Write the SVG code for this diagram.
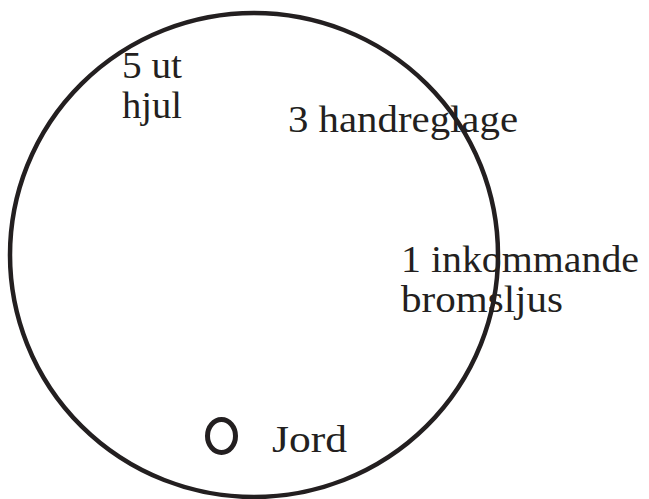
<svg xmlns="http://www.w3.org/2000/svg" width="649" height="499" viewBox="0 0 649 499">
<style>
.ln{fill:none;stroke:#231f20;stroke-width:4.5}
.t{font-family:"Liberation Serif","DejaVu Serif",serif;font-size:37px;fill:#231f20}
</style>
<rect width="649" height="499" fill="#ffffff"/>
<g id="boundary">
<ellipse class="ln" cx="254" cy="255" rx="244" ry="242"/>
</g>
<g id="connectors"></g>
<g id="pin5">
<text class="t" x="122" y="78" textLength="60" lengthAdjust="spacingAndGlyphs">5 ut</text>
<text class="t" x="122" y="118" textLength="60" lengthAdjust="spacingAndGlyphs">hjul</text>
</g>
<g id="pin3">
<text class="t" x="288" y="132" textLength="230" lengthAdjust="spacingAndGlyphs">3 handreglage</text>
</g>
<g id="pin1">
<text class="t" x="401" y="272" textLength="238" lengthAdjust="spacingAndGlyphs">1 inkommande</text>
<text class="t" x="401" y="312" textLength="162" lengthAdjust="spacingAndGlyphs">bromsljus</text>
</g>
<g id="ground">
<ellipse cx="221.5" cy="436" rx="14" ry="16.5" fill="none" stroke="#231f20" stroke-width="5"/>
<text class="t" x="272" y="452" textLength="75" lengthAdjust="spacingAndGlyphs">Jord</text>
</g>
</svg>
